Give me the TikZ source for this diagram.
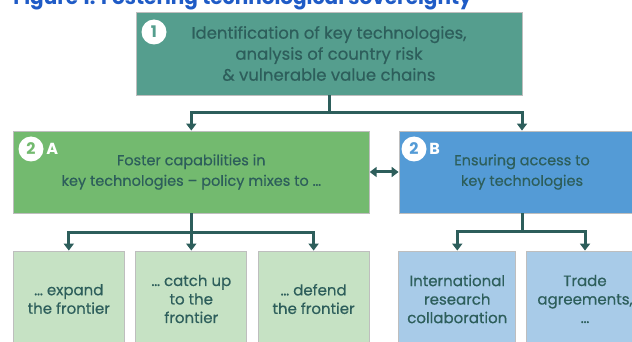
\documentclass[tikz,border=0pt]{standalone}
\usepackage{fontspec}
\setmainfont{Poppins}
\newfontfamily\boxfont{Poppins}[Ligatures=TeX, FakeBold=0.45]
\usetikzlibrary{arrows.meta}
\definecolor{tealbox}{HTML}{559E8E}
\definecolor{greenbox}{HTML}{73BA6F}
\definecolor{bluebox}{HTML}{549BD6}
\definecolor{greenpale}{HTML}{C6E2C4}
\definecolor{bluepale}{HTML}{A8CBE8}
\definecolor{ink}{HTML}{2D5E5B}
\definecolor{edge}{HTML}{BEBEBE}
\definecolor{titleblue}{HTML}{1F5BC6}
\tikzset{every picture/.style={line width=0.75pt}}
\tikzset{
  box/.style={rectangle, draw=edge, line width=0.8pt, align=center, text=ink, inner sep=0pt,
    font=\boxfont\fontsize{14.5}{20.5}\selectfont},
  topbox/.style={box, font=\boxfont\fontsize{16.5}{21}\selectfont},
  leaf/.style={box, minimum height=96pt, font=\boxfont\fontsize{15}{18.5}\selectfont},
  badge/.style={circle, fill=white, minimum size=25pt, inner sep=0pt, font=\fontsize{16}{16}\selectfont\bfseries},
  tag/.style={text=white, inner sep=0pt, font=\fontsize{16}{16}\selectfont\bfseries},
  link/.style={draw=ink, line width=3pt, -{Triangle[width=10pt,length=7pt]}},
}

\begin{document}
\begin{tikzpicture}[x=1pt, y=-1pt]
    \useasboundingbox (0,0) rectangle (632,342);
    \clip (0,0) rectangle (632,342);
    \node[anchor=base west, inner sep=0pt, text=titleblue, font=\fontsize{20}{20}\selectfont\bfseries] (title) at (13,4.5) {Figure 1: Fostering technological sovereignty};
    % top level
    \node[topbox, fill=tealbox, minimum width=386pt, minimum height=83pt] (ident) at (329,53.5) {Identification of key technologies,\\analysis of country risk\\\& vulnerable value chains};
    \node[badge, text=tealbox] (b1) at (154,32) {1};
    % second level
    \node[box, fill=greenbox, minimum width=356pt, minimum height=82pt] (foster) at (191.3,172) {Foster capabilities in\\key technologies – policy mixes to \dots};
    \node[box, fill=bluebox, minimum width=246pt, minimum height=82pt] (access) at (522,172) {Ensuring access to\\key technologies};
    \node[badge, text=greenbox] (b2a) at (31,149) {2};
    \node[tag, anchor=west] (ta) at (46,149) {A};
    \node[badge, text=bluebox] (b2b) at (414,149) {2};
    \node[tag, anchor=west] (tb) at (429,149) {B};
    % third level
    \node[leaf, fill=greenpale, minimum width=111pt] (expand) at (68.8,299) {\dots\ expand\\the frontier};
    \node[leaf, fill=greenpale, minimum width=111pt] (catch) at (191.3,299) {\dots\ catch up\\to the\\frontier};
    \node[leaf, fill=greenpale, minimum width=111pt] (defend) at (313.6,299) {\dots\ defend\\the frontier};
    \node[leaf, fill=bluepale, minimum width=117pt] (research) at (457.3,299) {International\\research\\collaboration};
    \node[leaf, fill=bluepale, minimum width=117pt] (trade) at (585,299) {Trade\\agreements,\\\dots};
    % connectors
    \draw[link] (ident.south) -- ++(0,17) coordinate (j1) -| (foster.north);
    \draw[link] (j1) -| (access.north);
    \draw[link, {Triangle[width=10pt,length=7pt]}-{Triangle[width=10pt,length=7pt]}] (foster.east) -- (access.west);
    \draw[link] (foster.south) -- ++(0,19) coordinate (j2) -| (expand.north);
    \draw[link] (j2) -- (catch.north);
    \draw[link] (j2) -| (defend.north);
    \draw[link] (access.south) -- ++(0,18) coordinate (j3) -| (research.north);
    \draw[link] (j3) -| (trade.north);
\end{tikzpicture}
\end{document}
